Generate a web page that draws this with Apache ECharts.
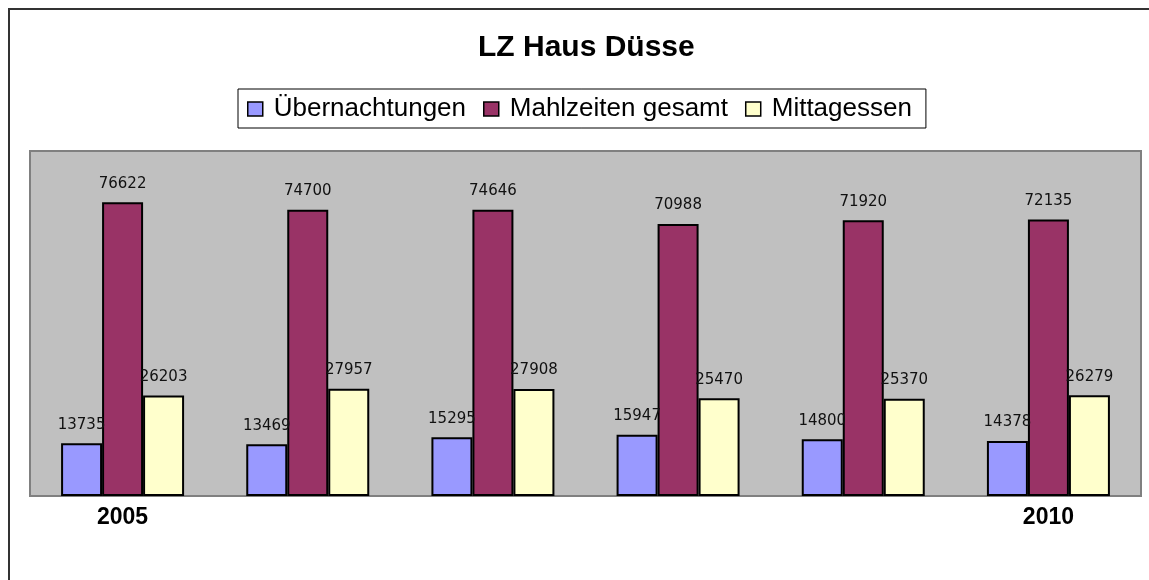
<!DOCTYPE html>
<html>
<head>
<meta charset="utf-8">
<script src="https://cdn.jsdelivr.net/npm/echarts@6/dist/echarts.min.js"></script>
<style>
  html, body { margin: 0; padding: 0; background: #fff; }
  #chart { width: 1149px; height: 580px; }
</style>
</head>
<body>
<div id="chart"></div>
<script>
  var years = ['2005', '', '', '', '', '2010']
  var uebernachtungen = [13735, 13469, 15295, 15947, 14800, 14378]
  var mahlzeiten = [76622, 74700, 74646, 70988, 71920, 72135]
  var mittagessen = [26203, 27957, 27908, 25470, 25370, 26279]

  var font = 'Liberation Sans, Arial, sans-serif'

  var chart = echarts.init(document.getElementById('chart'))

  function barSeries(name, data, color) {
    return {
      name: name,
      type: 'bar',
      data: data,
      barWidth: 41,
      barGap: '0%',
      itemStyle: { color: color, borderColor: '#000', borderWidth: 2 },
      label: {
        show: true,
        position: 'top',
        distance: 11,
        color: '#111',
        fontFamily: 'DejaVu Sans, sans-serif',
        fontSize: 15
      },
      emphasis: { disabled: true }
    }
  }

  chart.setOption({
    animation: false,
    backgroundColor: '#fff',
    graphic: [{
      // outer chart border (left + top visible)
      type: 'rect',
      shape: { x: 9, y: 9, width: 1200, height: 640 },
      style: { fill: 'none', stroke: '#333', lineWidth: 2 },
      z: -1
    }],
    title: {
      text: 'LZ Haus Düsse',
      left: 473,
      top: 28,
      textStyle: { fontFamily: font, fontSize: 30, fontWeight: 'bold', color: '#000' }
    },
    legend: {
      top: 89,
      left: 238,
      padding: [7, 14, 6, 9],
      backgroundColor: '#fff',
      borderColor: '#000',
      borderWidth: 1,
      itemWidth: 15,
      itemHeight: 14,
      itemGap: 17,
      icon: 'rect',
      itemStyle: { borderColor: '#000', borderWidth: 1.5 },
      textStyle: { fontFamily: font, fontSize: 26, color: '#000', padding: [0, 0, 0, 6] },
      data: ['Übernachtungen', 'Mahlzeiten gesamt', 'Mittagessen']
    },
    grid: {
      left: 30,
      right: 8,
      top: 151,
      bottom: 84,
      show: true,
      backgroundColor: '#c0c0c0',
      borderColor: '#808080',
      borderWidth: 2
    },
    xAxis: {
      type: 'category',
      data: years,
      axisLine: { show: false },
      axisTick: { show: false },
      axisLabel: {
        interval: 0,
        margin: 10,
        color: '#000',
        fontFamily: font,
        fontSize: 23,
        fontWeight: 'bold'
      }
    },
    yAxis: {
      type: 'value',
      min: 0,
      max: 90000,
      show: false,
      splitLine: { show: false }
    },
    series: [
      barSeries('Übernachtungen', uebernachtungen, '#9999ff'),
      barSeries('Mahlzeiten gesamt', mahlzeiten, '#993366'),
      barSeries('Mittagessen', mittagessen, '#ffffcc')
    ]
  })
</script>
</body>
</html>
